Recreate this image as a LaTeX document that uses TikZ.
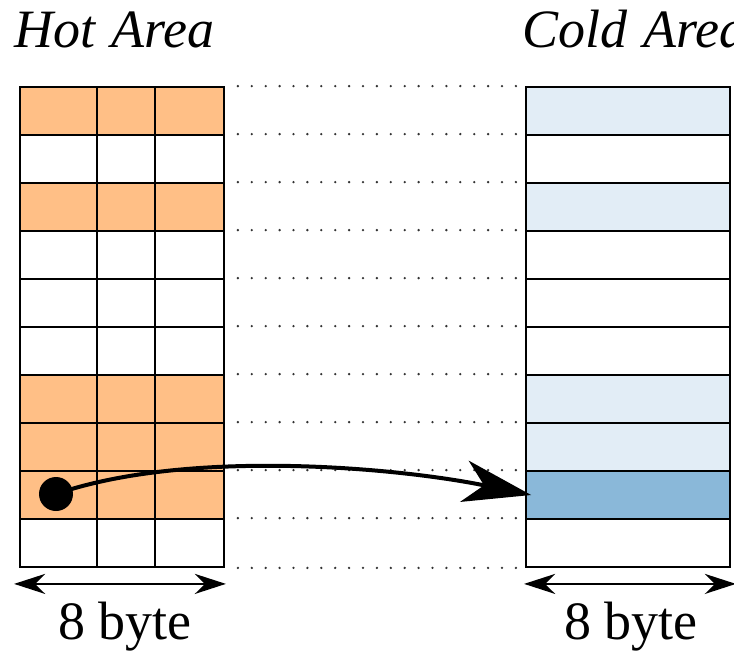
\documentclass[tikz,border=0pt]{standalone}
\usepackage{fontspec}
\setmainfont{Liberation Serif}
\usetikzlibrary{arrows.meta}
\definecolor{hot}{HTML}{FFBF86}
\definecolor{coldl}{HTML}{E2EDF6}
\definecolor{coldd}{HTML}{8AB8D9}
\begin{document}
\begin{tikzpicture}[x=1pt,y=-1pt,
  cell/.style={draw=black,line width=1.8pt,inner sep=0pt,minimum height=48pt},
  dotline/.style={draw=black!80,line width=2.6pt,line cap=round,dash pattern=on 0pt off 13.9pt},
  dim/.style={line width=2.4pt,{Stealth[length=31pt,width=20pt,inset=10pt]}-{Stealth[length=31pt,width=20pt,inset=10pt]}},
  big/.style={font=\fontsize{54}{60}\selectfont,inner sep=0pt}]
\clip (0,0) rectangle (734,654);
\foreach \i/\f/\g in {0/hot/coldl,1/white/white,2/hot/coldl,3/white/white,4/white/white,5/white/white,6/hot/coldl,7/hot/coldl,8/hot/coldd,9/white/white}{
  \pgfmathsetmacro\yc{111+48*\i}
  \node[cell,minimum width=77pt,fill=\f] (L\i a) at (58.5,\yc) {};
  \node[cell,minimum width=58pt,fill=\f] (L\i b) at (126,\yc) {};
  \node[cell,minimum width=69pt,fill=\f] (L\i c) at (189.5,\yc) {};
  \node[cell,minimum width=204pt,fill=\g] (R\i) at (628,\yc) {};
}
\foreach \i in {0,...,9}{
  \draw[dotline] ([xshift=13pt]L\i c.north east) -- ([xshift=-9pt]R\i.north west);
}
\draw[dotline] ([xshift=13pt]L9c.south east) -- ([xshift=-9pt]R9.south west);
\draw[dim] ([xshift=-5pt,yshift=-16pt]L9a.south west) -- ([xshift=1pt,yshift=-16pt]L9c.south east);
\draw[dim] ([xshift=-1pt,yshift=-16pt]R9.south west) -- ([xshift=5pt,yshift=-16pt]R9.south east);
\node[circle,fill=black,inner sep=0pt,minimum size=34pt] (dot) at (56,494) {};
\draw[line width=4pt,-{Stealth[length=68pt,width=42pt,inset=20pt]}] (dot.center) .. controls (190,448) and (400,468) .. ([xshift=6pt]R8.west);
\node[big,font=\fontsize{54}{60}\selectfont\itshape,anchor=base west] (hot) at (14,47) {Hot\hspace{3pt} Area};
\node[big,font=\fontsize{54}{60}\selectfont\itshape,anchor=base west] (cold) at (522,47) {Cold\hspace{3pt} Area};
\node[big,anchor=base] (b1) at (125,639) {8 byte};
\node[big,anchor=base] (b2) at (631,639) {8 byte};
\end{tikzpicture}
\end{document}
